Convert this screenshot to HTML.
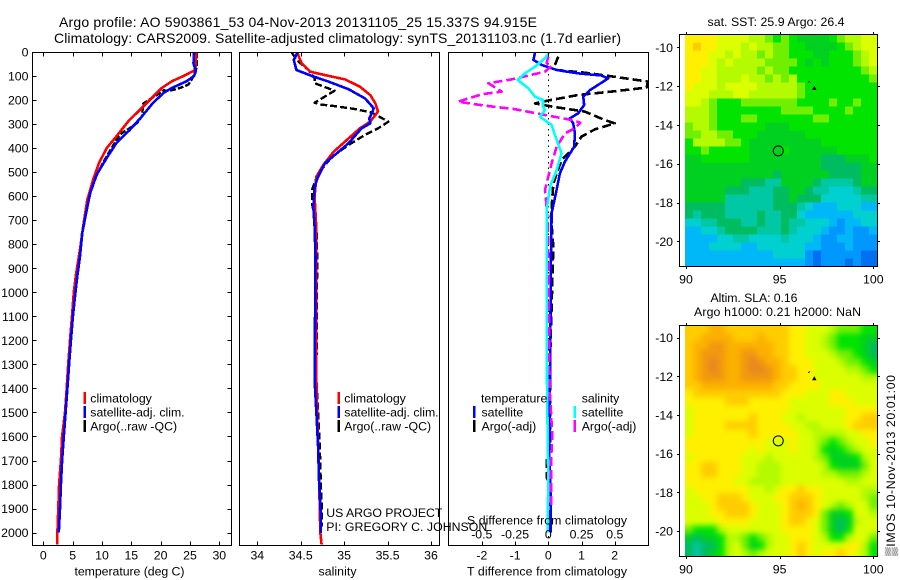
<!DOCTYPE html>
<html lang="en">
<head>
<meta charset="utf-8">
<title>Argo profile AO 5903861_53</title>
<style>
html,body{margin:0;padding:0;background:#fff;}
svg{display:block;}
text{font-family:"Liberation Sans",sans-serif;font-size:12.3px;fill:#000;}
.title{font-size:14px;}
</style>
</head>
<body>
<svg id="chart" xmlns="http://www.w3.org/2000/svg" width="900" height="580" viewBox="0 0 900 580">
  <defs>
    <clipPath id="clip-temp"><rect x="32" y="52" width="200" height="494"/></clipPath>
    <clipPath id="clip-sal"><rect x="239" y="52" width="201" height="494"/></clipPath>
    <clipPath id="clip-diff"><rect x="448" y="52" width="201" height="494"/></clipPath>
    <clipPath id="clip-map1"><rect x="685" y="34" width="193" height="233"/></clipPath>
    <clipPath id="clip-map2"><rect x="685" y="325" width="193" height="232"/></clipPath>
  </defs>
  <text class="title" x="59" y="27" textLength="478">Argo profile: AO 5903861_53 04-Nov-2013 20131105_25 15.337S 94.915E</text>
  <text class="title" x="54" y="43" textLength="567">Climatology: CARS2009. Satellite-adjusted climatology: synTS_20131103.nc (1.7d earlier)</text>
  <g id="map-one-cells" clip-path="url(#clip-map1)"></g>
  <g clip-path="url(#clip-map2)"><g id="map-two-cells" style="filter:blur(3px)"></g></g>
  <g id="marks"></g>
  <g id="axes"></g>
  <g id="labels"></g>
  <text x="707.5" y="26" textLength="137">sat. SST: 25.9 Argo: 26.4</text>
  <text x="710.5" y="302" textLength="87">Altim. SLA: 0.16</text>
  <text x="694" y="316" textLength="167">Argo h1000: 0.21 h2000: NaN</text>
  <text x="326.3" y="517" textLength="116">US ARGO PROJECT</text>
  <text x="326.3" y="531" textLength="161">PI: GREGORY C. JOHNSON</text>
  <text x="467" y="524.5" textLength="160">S difference from climatology</text>
  <text x="467" y="575.5" textLength="160">T difference from climatology</text>
  <text x="74.5" y="575.5" textLength="110">temperature (deg C)</text>
  <text x="318.5" y="575.5" textLength="38">salinity</text>
  <text transform="translate(895,556) rotate(-90)" textLength="181">▒IMOS 10-Nov-2013 20:01:00</text>
</svg>
<script>
// ---- Profile data (depth in dbar, temperature deg C, salinity psu, differences) ----
const tempClimDepth = [0,74,80,100,122,150,198,247,288,350,400,462,530,615,725,822,920,1000,1100,1200,1300,1400,1500,1600,1700,1800,1900,2000,2050];
const tempClimValue = [26.1,25.9,25.5,23.9,21.9,20.2,18.2,16.2,14.5,12.5,10.8,9.5,8.5,7.5,6.8,6.25,5.6,5.2,4.9,4.55,4.25,3.98,3.7,3.2,3.0,2.7,2.55,2.4,2.4];
const tempSatDepth = [0,46,80,100,122,150,170,212,268,323,378,441,510,587,670,753,850,933,1017,1100,1200,1300,1400,1500,1600,1700,1800,1900,2000];
const tempSatValue = [25.7,25.6,26,25.7,24.4,21.9,20.5,18.7,16.8,14.8,12.5,10.8,9.1,8,7.3,6.65,6.25,5.8,5.4,5.05,4.7,4.4,4.1,3.8,3.5,3.2,3,2.85,2.65];
const tempArgoDepth = [0,60,80,115,136,150,161,160,185,196,215,247,268,295,316,337,365,434,497,580,670,753,850,1000,1200,1400,1600,1800,1975];
const tempArgoValue = [26.2,26.2,25.9,25.3,24.7,23.3,21.6,20.5,19,18.2,17,16.9,16.8,16,14.8,13.4,12.5,10.8,9.4,8,7.2,6.6,6.2,5.35,4.65,4.05,3.4,2.9,2.7];

const salClimDepth = [3,47,82,96,114,144,179,214,248,290,318,373,415,470,519,602,741,852,1365,1500,1700,1900,2000,2050];
const salClimValue = [34.46,34.51,34.61,34.78,35.01,35.18,35.3,35.36,35.39,35.3,35.18,35.01,34.88,34.76,34.68,34.66,34.68,34.68,34.68,34.69,34.705,34.72,34.725,34.74];
const salSatDepth = [3,33,75,100,123,155,193,234,255,276,297,318,380,429,463,519,560,644,727,852,1365,1503,1642,1781,1920,2001];
const salSatValue = [34.46,34.42,34.45,34.63,34.82,35.05,35.24,35.34,35.32,35.29,35.3,35.2,35.05,34.89,34.78,34.7,34.66,34.645,34.66,34.67,34.66,34.68,34.7,34.71,34.73,34.73];
const salArgoDepth = [3,33,75,110,130,161,211,218,225,237,252,290,318,345,387,436,505,574,630,727,852,1365,1503,1642,1781,1920,1975];
const salArgoValue = [34.4,34.45,34.59,34.66,34.66,34.89,34.66,34.72,34.89,35.12,35.32,35.51,35.39,35.24,35.05,34.86,34.7,34.63,34.63,34.68,34.69,34.68,34.7,34.72,34.73,34.745,34.745];

const diffTempSatDepth = [3,33,54,75,89,98,110,128,158,186,220,255,276,297,338,394,456,505,574,671,852,1365,1700,1850,2000];
const diffTempSatValue = [-0.4,-0.45,-0.2,0.25,0.9,1.6,1.8,1.6,1.26,1.05,1.08,0.9,0.65,0.75,0.8,0.78,0.5,0.35,0.25,0.1,0.08,0.05,0.03,0.07,0.07];
const diffTempArgoDepth = [19,54,75,86,103,123,148,165,179,202,214,227,248,283,297,322,352,394,449,547,685,810,1250,1650,1685,1770,1800,2000];
const diffTempArgoValue = [0.3,0.2,0.25,1.1,2,3,2.96,1.9,0.9,0,-0.4,0.1,1.1,1.7,2,1.4,1,0.8,0.4,0.15,0.08,0.15,0.06,0.05,-0.05,-0.05,0.05,0.05];
const diffSalSatDepth = [3,26,61,89,116,151,186,200,227,241,269,304,345,422,491,560,657,852,1365,1800,1950,2000];
const diffSalSatValue = [0.005,-0.025,-0.1,-0.176,-0.23,-0.15,-0.1,-0.04,-0.04,-0.025,-0.063,0.025,0.05,0.1,0.063,0.013,-0.013,-0.013,-0.01,0,-0.005,-0.005];
const diffSalArgoDepth = [19,47,58,82,114,130,165,176,207,223,238,262,283,294,318,338,394,463,574,644,782,1400,1500,1600,1700,1800,1900];
const diffSalArgoValue = [0,-0.013,0.025,-0.025,-0.276,-0.45,-0.35,-0.5,-0.68,-0.48,-0.25,-0.025,0.176,0.24,0.2,0.126,0.063,0.025,-0.025,-0.013,0,0.01,0.02,0.03,0.02,0.02,0.02];

// ---- Tick labels ----
const depthTicks = [0,100,200,300,400,500,600,700,800,900,1000,1100,1200,1300,1400,1500,1600,1700,1800,1900,2000];
const tempTicks = [0,5,10,15,20,25,30];
const salTicks = [34,34.5,35,35.5,36];
const diffTempTicks = [-2,-1,0,1,2];
const diffSalTicks = [-0.5,-0.25,0,0.25,0.5];
const lonTicks = [90,95,100];
const latTicks = [-10,-12,-14,-16,-18,-20];

// ---- Map values: colour-level per cell, north to south, west to east ----
const sstGrid = [
[11,11,11,11,10,10,10,10,9,9,8,7,8,7,6,6,6,6,7,8,9,9,10,10],
[11,12,11,11,10,10,10,9,10,9,9,8,8,7,7,6,6,6,6,7,8,9,10,10],
[11,11,11,10,10,9,10,9,9,8,9,8,8,7,7,7,6,6,7,7,7,8,9,10],
[11,11,11,10,9,10,9,9,9,9,8,8,8,8,7,6,7,6,7,7,7,8,9,10],
[11,11,10,10,9,9,9,9,9,8,9,8,8,7,7,7,7,7,7,7,7,7,8,9],
[11,11,10,10,9,9,9,10,9,9,8,9,8,9,7,7,7,7,7,7,7,7,7,8],
[11,10,10,10,9,10,10,10,10,9,9,9,9,9,8,7,7,7,7,7,7,7,7,7],
[10,10,10,9,9,9,10,10,9,9,9,9,9,9,8,7,7,7,7,7,7,7,7,7],
[10,10,9,8,7,7,7,8,8,8,8,8,8,8,7,7,7,7,8,7,7,8,7,7],
[9,9,9,8,7,7,7,7,7,7,7,7,8,8,8,8,7,7,7,7,8,7,7,7],
[9,9,9,8,7,7,7,8,8,7,7,7,7,7,7,7,8,8,7,7,7,7,7,7],
[8,9,9,8,7,7,7,7,7,7,6,6,6,7,7,7,7,7,7,7,7,7,7,7],
[8,8,9,9,8,8,7,7,7,6,6,6,6,6,6,7,7,7,7,7,7,7,7,7],
[7,9,9,9,9,8,8,7,6,6,6,6,6,6,6,6,6,7,7,7,7,7,7,7],
[7,7,8,7,7,7,7,7,6,6,6,6,7,6,6,6,6,6,6,7,7,7,7,7],
[6,6,7,7,7,7,7,7,6,6,6,6,6,6,6,6,6,5,5,5,6,6,6,7],
[6,6,6,6,6,6,6,6,6,6,6,6,6,6,6,6,6,5,5,5,5,5,6,6],
[6,6,6,6,6,6,6,6,6,6,6,5,6,6,6,6,6,6,5,5,5,5,6,6],
[6,6,6,6,6,6,6,5,5,5,4,4,6,6,6,6,5,4,4,4,4,5,6,6],
[6,6,6,6,6,5,5,5,4,4,4,5,5,6,6,5,4,4,3,3,3,4,5,5],
[6,6,6,6,6,4,4,4,4,4,4,5,5,6,5,5,5,3,3,3,3,3,4,4],
[5,5,5,5,5,4,4,4,4,4,4,5,5,5,4,3,2,2,2,3,3,3,2,2],
[5,4,5,5,5,4,4,4,4,5,4,4,5,5,3,2,2,2,2,2,2,3,3,3],
[3,3,4,4,5,5,5,4,4,5,4,4,5,4,4,3,3,3,2,1,2,2,3,3],
[2,2,3,3,4,5,5,5,5,4,4,4,5,4,3,3,3,2,1,1,2,1,1,2],
[2,2,2,2,3,3,4,4,3,3,3,3,4,3,3,3,2,1,1,2,2,1,1,1],
[2,2,2,3,3,3,3,2,2,3,3,3,3,3,3,2,2,1,1,1,2,1,1,1],
[2,2,2,2,2,2,2,2,2,2,2,3,3,3,3,1,0,1,1,1,1,1,0,0],
[2,2,2,2,2,2,2,2,2,2,2,2,2,2,2,1,0,1,1,1,0,1,0,0]
];
const slaGrid = [
[12,12,12,13,13,12,12,12,12,12,12,12,12,11,11,10,10,10,9,8,8,8,7,7],
[12,12,13,13,13,13,12,12,12,13,12,12,12,11,11,10,10,9,8,7,7,7,6,6],
[12,13,13,14,14,13,13,13,13,13,13,12,12,11,11,10,10,9,8,7,7,7,6,5],
[12,13,14,14,14,13,13,14,14,13,13,12,12,11,11,10,10,10,9,8,8,7,6,5],
[12,13,14,15,14,13,13,14,15,14,13,13,12,11,11,11,10,10,10,9,8,8,7,6],
[12,13,14,15,14,13,13,14,15,15,14,13,12,12,11,11,10,10,10,10,9,9,8,7],
[12,13,14,14,14,13,13,14,14,14,14,13,12,12,11,11,10,10,10,10,10,10,9,9],
[12,12,13,13,13,13,13,13,13,13,13,12,12,11,11,11,11,10,10,10,10,10,10,10],
[11,12,12,12,12,12,12,12,12,12,12,12,11,11,11,10,10,10,11,11,10,10,10,10],
[11,11,11,11,11,12,12,12,11,11,11,11,11,10,10,10,10,10,11,11,11,10,10,10],
[10,11,11,11,11,11,11,11,11,11,11,11,11,10,10,10,10,10,10,10,11,11,11,11],
[10,11,11,11,11,11,11,11,12,11,11,11,10,10,9,10,10,10,10,10,11,11,12,12],
[10,11,11,11,11,12,12,12,12,11,11,11,11,10,10,9,9,10,10,10,11,12,12,12],
[10,11,11,11,11,11,11,11,12,11,11,11,11,11,10,10,9,9,9,9,10,10,11,11],
[11,11,11,11,11,11,11,11,11,11,10,10,10,11,10,10,9,8,7,8,9,10,10,11],
[11,11,11,11,11,11,11,11,10,11,10,10,10,11,10,10,9,7,6,7,8,9,10,10],
[10,11,11,11,11,11,11,10,10,10,9,10,10,10,10,10,9,8,6,6,6,7,9,10],
[11,11,12,12,11,11,11,10,10,9,9,9,10,10,10,10,10,9,7,6,6,6,8,10],
[11,11,12,12,11,11,11,10,10,9,9,9,10,10,10,10,10,9,9,8,8,8,9,10],
[11,11,11,11,11,11,10,10,9,9,9,9,10,10,10,10,10,10,10,10,9,9,10,10],
[10,11,11,11,11,11,11,11,10,10,9,10,11,11,12,11,11,10,10,10,10,10,9,9],
[10,10,11,11,12,12,12,11,10,10,10,11,11,12,12,12,11,10,10,10,10,10,9,8],
[10,10,10,11,12,12,12,12,11,10,10,10,11,12,13,12,11,10,9,8,9,10,10,8],
[10,10,10,11,11,12,12,12,11,10,10,10,11,12,12,12,11,8,6,6,7,10,10,9],
[10,10,10,10,11,11,11,11,10,10,10,10,11,12,12,11,10,8,6,5,6,9,10,10],
[8,7,7,7,9,10,10,10,10,10,10,10,11,11,11,11,10,8,6,5,7,10,10,10],
[6,5,6,6,7,9,9,8,7,8,9,10,10,11,11,11,10,9,7,7,9,10,10,8],
[5,4,5,5,7,9,10,8,6,7,9,10,10,11,12,11,10,10,10,10,11,11,9,7],
[5,4,5,6,7,9,10,9,8,9,10,10,10,11,12,11,10,11,11,12,11,10,9,7]
];
const profileLon = [94.915];
const profileLat = [-15.337];
const neighbourLon = [96.85];
const neighbourLat = [-12.1];

const levelColors = ['#0070f0','#0098ff','#00b8f8','#00d0d0','#00c8a4','#00bc60','#00d020','#00e400','#70f000','#b4fa00','#dcff00','#fff000','#ffcc00','#fcb000','#f09810','#e88820'];

// ---- Axis functions ----
const yDepth = d => 52 + 0.2403 * d;
const xTemp = t => 43.3 + 5.867 * t;
const xSal = s => 257.3 + 86.85 * (s - 34);
const xDiffT = t => 548.3 + 33.2 * t;
const xDiffS = s => 548.3 + 133 * s;
const xLon = lon => 686 + 18.73 * (lon - 90);
const yLat1 = lat => 47.3 + 19.4 * (-10 - lat);
const yLat2 = lat => 337.7 + 19.33 * (-10 - lat);

const NS = 'http://www.w3.org/2000/svg';
const marksG = document.getElementById('marks');
const axesG = document.getElementById('axes');
const labelsG = document.getElementById('labels');

function make(tag, attrs, parent) {
  const el = document.createElementNS(NS, tag);
  for (const k in attrs) el.setAttribute(k, attrs[k]);
  parent.appendChild(el);
  return el;
}

function drawSeries(depths, values, xFn, color, width, dash, clip, name) {
  const pts = depths.map((d, i) => xFn(values[i]).toFixed(1) + ',' + yDepth(d).toFixed(1)).join(' ');
  const attrs = {points: pts, fill: 'none', stroke: color, 'stroke-width': width, 'stroke-linejoin': 'round', 'shape-rendering': 'crispEdges', 'clip-path': 'url(#' + clip + ')'};
  if (dash) attrs['stroke-dasharray'] = dash;
  const el = make('polyline', attrs, marksG);
  
  
}

function drawLabel(x, y, str, anchor, name) {
  const el = make('text', {x: x, y: y, 'text-anchor': anchor}, labelsG);
  el.textContent = str;
  
  
  return el;
}

function drawTick(x1, y1, x2, y2, name) {
  const el = make('line', {x1: x1, y1: y1, x2: x2, y2: y2, stroke: '#000', 'stroke-width': 1, 'shape-rendering': 'crispEdges'}, axesG);
  
  
}

function drawFrame(x, y, w, h, name) {
  const el = make('rect', {x: x, y: y, width: w, height: h, fill: 'none', stroke: '#000', 'stroke-width': 1, 'shape-rendering': 'crispEdges'}, axesG);
  
  
}

function drawLegendBar(x, yc, color, name) {
  const el = make('rect', {x: x, y: yc - 6, width: 2.5, height: 12, fill: color}, labelsG);
  
  
}

function drawMap(grid, parent, lonStart, dLon, latStart, dLat, xFn, yFn, extend, name) {
  const rows = grid.length, cols = grid[0].length;
  grid.forEach((row, r) => row.forEach((v, c) => {
    let x0 = xFn(lonStart + c * dLon), x1 = xFn(lonStart + (c + 1) * dLon) + 0.4;
    let y0 = yFn(latStart - r * dLat), y1 = yFn(latStart - (r + 1) * dLat) + 0.4;
    if (extend) {
      if (c === 0) x0 -= 14;
      if (c === cols - 1) x1 += 14;
      if (r === 0) y0 -= 14;
      if (r === rows - 1) y1 += 14;
    }
    const el = make('rect', {x: x0.toFixed(2), y: y0.toFixed(2), width: (x1 - x0).toFixed(2), height: (y1 - y0).toFixed(2), fill: levelColors[Math.max(0, Math.min(levelColors.length - 1, Math.round(v)))], 'shape-rendering': 'crispEdges'}, parent);
    
    
  }));
}

// ---- Maps ----
drawMap(sstGrid, document.getElementById('map-one-cells'), 89.947, 0.4271, -9.33, 0.4124, xLon, yLat1, false, 'sst-cell');
drawMap(slaGrid, document.getElementById('map-two-cells'), 89.947, 0.4271, -9.37, 0.4139, xLon, yLat2, true, 'sla-cell');

// ---- Zero reference line in difference panel ----
const zeroLine = make('line', {x1: xDiffT(0), x2: xDiffT(0), y1: yDepth(0), y2: yDepth(2050), stroke: '#000', 'stroke-width': 1, 'stroke-dasharray': '1.5 4', 'shape-rendering': 'crispEdges'}, marksG);



// ---- Series ----
drawSeries(tempArgoDepth, tempArgoValue, xTemp, '#000', 2.4, '6 2', 'clip-temp', 'temperature-argo-line');
drawSeries(tempClimDepth, tempClimValue, xTemp, '#f00', 2.6, null, 'clip-temp', 'temperature-climatology-line');
drawSeries(tempSatDepth, tempSatValue, xTemp, '#00f', 2.6, null, 'clip-temp', 'temperature-satellite-line');

drawSeries(salArgoDepth, salArgoValue, xSal, '#000', 2.4, '7 3', 'clip-sal', 'salinity-argo-line');
drawSeries(salClimDepth, salClimValue, xSal, '#f00', 2.6, null, 'clip-sal', 'salinity-climatology-line');
drawSeries(salSatDepth, salSatValue, xSal, '#00f', 2.6, null, 'clip-sal', 'salinity-satellite-line');

drawSeries(diffTempArgoDepth, diffTempArgoValue, xDiffT, '#000', 2.6, '9 4', 'clip-diff', 'temperature-difference-argo-line');
drawSeries(diffTempSatDepth, diffTempSatValue, xDiffT, '#00f', 2.6, null, 'clip-diff', 'temperature-difference-satellite-line');
drawSeries(diffSalArgoDepth, diffSalArgoValue, xDiffS, '#f0f', 2.6, '9 4', 'clip-diff', 'salinity-difference-argo-line');
drawSeries(diffSalSatDepth, diffSalSatValue, xDiffS, '#0ff', 2.6, null, 'clip-diff', 'salinity-difference-satellite-line');

// ---- Frames ----
const pTop = 52.5, pBot = 545.5;
drawFrame(32.5, pTop, 199, pBot - pTop, 'temperature-panel-frame');
drawFrame(239.5, pTop, 200, pBot - pTop, 'salinity-panel-frame');
drawFrame(448.5, pTop, 200, pBot - pTop, 'difference-panel-frame');
drawFrame(679.5, 34.5, 198, 232, 'sst-map-frame');
drawFrame(679.5, 325.5, 198, 231, 'sla-map-frame');

// ---- Panel ticks and labels ----
depthTicks.forEach(d => {
  const y = Math.round(yDepth(d)) + 0.5;
  drawTick(32.5, y, 36.5, y, 'depth-tick-left');
  drawTick(231.5, y, 227.5, y, 'depth-tick-right');
  drawLabel(28.5, yDepth(d) + 4.5, String(d), 'end', 'depth-tick-label');
});
tempTicks.forEach(t => {
  const x = Math.round(xTemp(t)) + 0.5;
  drawTick(x, pTop, x, pTop + 4, 'temperature-tick-top');
  drawTick(x, pBot, x, pBot - 4, 'temperature-tick-bottom');
  drawLabel(xTemp(t), 559.5, String(t), 'middle', 'temperature-tick-label');
});
salTicks.forEach(s => {
  const x = Math.round(xSal(s)) + 0.5;
  drawTick(x, pTop, x, pTop + 4, 'salinity-tick-top');
  drawTick(x, pBot, x, pBot - 4, 'salinity-tick-bottom');
  drawLabel(xSal(s), 559.5, String(s), 'middle', 'salinity-tick-label');
});
diffTempTicks.forEach(t => {
  const x = Math.round(xDiffT(t)) + 0.5;
  drawTick(x, pBot, x, pBot - 4, 'temperature-difference-tick');
  drawLabel(xDiffT(t), 559.5, String(t), 'middle', 'temperature-difference-tick-label');
});
diffSalTicks.forEach(s => {
  const x = Math.round(xDiffS(s)) + 0.5;
  drawTick(x, pTop, x, pTop + 4, 'salinity-difference-tick');
  drawLabel(xDiffS(s), 538.5, String(s), 'middle', 'salinity-difference-tick-label');
});

// ---- Map ticks and labels ----
lonTicks.forEach(lon => {
  const x = Math.round(xLon(lon)) + 0.5;
  drawTick(x, 32, x, 34.5, 'sst-longitude-tick-top');
  drawTick(x, 266.5, x, 269, 'sst-longitude-tick-bottom');
  drawTick(x, 323, x, 325.5, 'sla-longitude-tick-top');
  drawTick(x, 556.5, x, 559, 'sla-longitude-tick-bottom');
  drawLabel(xLon(lon), 283.5, String(lon), 'middle', 'sst-longitude-label');
  drawLabel(xLon(lon), 573.5, String(lon), 'middle', 'sla-longitude-label');
});
latTicks.forEach(lat => {
  const y1 = Math.round(yLat1(lat)) + 0.5;
  const y2 = Math.round(yLat2(lat)) + 0.5;
  drawTick(677, y1, 679.5, y1, 'sst-latitude-tick-left');
  drawTick(877.5, y1, 880, y1, 'sst-latitude-tick-right');
  drawTick(677, y2, 679.5, y2, 'sla-latitude-tick-left');
  drawTick(877.5, y2, 880, y2, 'sla-latitude-tick-right');
  drawLabel(673, yLat1(lat) + 4.5, String(lat), 'end', 'sst-latitude-label');
  drawLabel(673, yLat2(lat) + 4.5, String(lat), 'end', 'sla-latitude-label');
});

// ---- Map markers ----
[[yLat1, 'sst'], [yLat2, 'sla']].forEach(pair => {
  const yFn = pair[0], tag = pair[1];
  const circle = make('circle', {cx: xLon(profileLon[0]) + 0.2, cy: yFn(profileLat[0]), r: 5, fill: 'none', stroke: '#000', 'stroke-width': 1}, axesG);
  
  
  const nx = xLon(neighbourLon[0]), ny = yFn(neighbourLat[0]);
  const tri = make('polygon', {points: (nx - 2.2) + ',' + (ny + 2) + ' ' + (nx + 2.2) + ',' + (ny + 2) + ' ' + nx + ',' + (ny - 2.2), fill: '#000'}, axesG);
  
  
  const dash = make('line', {x1: nx - 6, y1: ny - 5.5, x2: nx - 4.5, y2: ny - 6.8, stroke: '#000', 'stroke-width': 1}, axesG);
  
  
});

// ---- Legends ----
const legendY = [398, 412, 426];
const profileLegendLabels = ['climatology', 'satellite-adj. clim.', 'Argo(..raw -QC)'];
const profileLegendColors = ['#f00', '#00f', '#000'];
[[83.5, 90.3], [337.5, 344.3]].forEach(pos => {
  legendY.forEach((y, i) => {
    drawLegendBar(pos[0], y, profileLegendColors[i], 'legend-swatch');
    drawLabel(pos[1], y + 4.5, profileLegendLabels[i], 'start', 'legend-entry');
  });
});
drawLabel(481, legendY[0] + 4.5, 'temperature', 'start', 'legend-temperature-heading');
drawLabel(581.7, legendY[0] + 4.5, 'salinity', 'start', 'legend-salinity-heading');
const diffLegendLabels = ['satellite', 'Argo(-adj)'];
const diffLegendLeft = ['#00f', '#000'];
const diffLegendRight = ['#0ff', '#f0f'];
diffLegendLabels.forEach((label, i) => {
  const y = legendY[i + 1];
  drawLegendBar(473, y, diffLegendLeft[i], 'legend-swatch');
  drawLabel(481.5, y + 4.5, label, 'start', 'legend-entry');
  drawLegendBar(573.5, y, diffLegendRight[i], 'legend-swatch');
  drawLabel(581.7, y + 4.5, label, 'start', 'legend-entry');
});
</script>
</body>
</html>
